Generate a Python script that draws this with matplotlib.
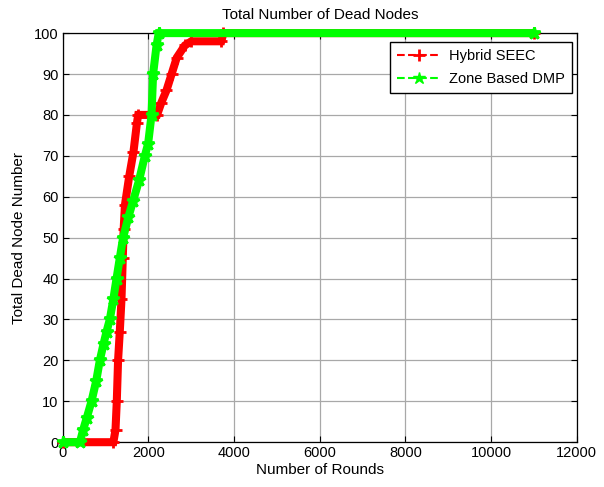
import matplotlib
matplotlib.use("Agg")
import matplotlib.pyplot as plt
from matplotlib.lines import Line2D

plt.rcParams["font.family"] = ["Liberation Sans", "DejaVu Sans"]

# Hybrid SEEC: round -> total dead nodes
seec_rounds = [0, 1180, 1230, 1260, 1290, 1330, 1370, 1400, 1420, 1450,
               1550, 1650, 1730, 1760, 2200, 2300, 2420, 2540, 2660, 2850,
               3000, 3700, 3750, 11000]
seec_dead = [0, 0, 3, 10, 20, 27, 35, 45, 52, 58,
             65, 71, 78, 80, 80, 83, 86, 90, 94, 97,
             98, 98, 100, 100]

# Zone Based DMP
dmp_rounds = [0, 400, 474, 560, 670, 780, 864, 950, 1020, 1097,
              1180, 1254, 1330, 1408, 1530, 1641, 1780, 1915, 1992, 2071,
              2108, 2188, 2240, 11000]
dmp_dead = [0, 0, 3, 6, 10, 15, 20, 24, 27, 30,
            35, 40, 45, 50, 55, 59, 64, 70, 73, 80,
            90, 97, 100, 100]

x_ticks = [0, 2000, 4000, 6000, 8000, 10000, 12000]
y_ticks = list(range(0, 101, 10))

RED = "#FF0000"
GREEN = "#00FF00"

fig = plt.figure(figsize=(6.04, 4.87), dpi=100)
ax = fig.add_axes([0.104, 0.092, 0.851, 0.840])

# dense marker band of the original drawn as a thick stroke, markers on top
for rounds, dead, color, marker in [(seec_rounds, seec_dead, RED, "+"),
                                    (dmp_rounds, dmp_dead, GREEN, "*")]:
    ax.plot(rounds, dead, color=color, lw=5.8, solid_joinstyle="miter",
            solid_capstyle="butt", clip_on=False, zorder=3)
    ax.plot(rounds, dead, color=color, lw=1.2, ls="--", marker=marker,
            ms=9, mew=2, clip_on=False, zorder=3)

ax.set_xlim(0, 12000)
ax.set_ylim(0, 100)
ax.set_xticks(x_ticks)
ax.set_yticks(y_ticks)
ax.tick_params(direction="in", top=True, right=True, labelsize=10.5,
               length=4, width=0.8, pad=3)
ax.grid(True, color="#a8a8a8", lw=0.9, ls="-")
ax.set_axisbelow(True)
for sp in ax.spines.values():
    sp.set_linewidth(0.9)
    sp.set_zorder(2)

ax.set_title("Total Number of Dead Nodes", fontsize=11, pad=10)
ax.set_xlabel("Number of Rounds", fontsize=11, labelpad=2)
ax.set_ylabel("Total Dead Node Number", fontsize=11, labelpad=6)

handles = [
    Line2D([], [], color=RED, ls="--", lw=1.5, marker="+", ms=9, mew=2),
    Line2D([], [], color=GREEN, ls="--", lw=1.5, marker="*", ms=9),
]
leg = ax.legend(handles, ["Hybrid SEEC", "Zone Based DMP"], loc="upper right",
                bbox_to_anchor=(0.99, 0.978), borderaxespad=0, fontsize=10.5,
                fancybox=False, framealpha=1, edgecolor="black",
                handlelength=3, handletextpad=0.5, borderpad=0.5,
                labelspacing=0.6)
leg.get_frame().set_linewidth(1.0)
leg.set_zorder(5)

fig.savefig("out.png", dpi=100)
